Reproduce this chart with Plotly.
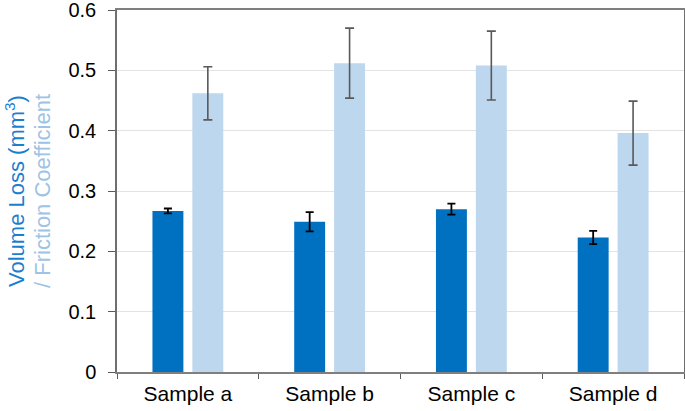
import plotly.graph_objects as go

categories = ["Sample a", "Sample b", "Sample c", "Sample d"]
volume_loss = [0.267, 0.249, 0.270, 0.223]
volume_err = [0.004, 0.016, 0.009, 0.011]
friction = [0.462, 0.512, 0.508, 0.396]
friction_err = [0.044, 0.058, 0.057, 0.053]
y_ticks = [0, 0.1, 0.2, 0.3, 0.4, 0.5, 0.6]
y_tick_labels = ["0", "0.1", "0.2", "0.3", "0.4", "0.5", "0.6"]

W, H = 685, 411
ml, mr, mt, mb = 117, 1, 10, 39
pw = W - ml - mr

fig = go.Figure()
fig.add_trace(go.Bar(
    x=categories, y=volume_loss, name="Volume Loss",
    marker=dict(color="#0070C0", line=dict(width=0)),
    error_y=dict(type="data", array=volume_err, visible=True,
                 color="#000000", thickness=1.8, width=4),
))
fig.add_trace(go.Bar(
    x=categories, y=friction, name="Friction Coefficient",
    marker=dict(color="#BDD7EE", line=dict(width=0)),
    error_y=dict(type="data", array=friction_err, visible=True,
                 color="#595959", thickness=1.6, width=4.5),
))

fig.update_layout(
    width=W, height=H,
    margin=dict(l=ml, r=mr, t=mt, b=mb, pad=0),
    paper_bgcolor="white", plot_bgcolor="white",
    barmode="group", bargap=0.437, bargroupgap=0.225,
    showlegend=False,
    font=dict(family="Liberation Sans, Arial, sans-serif", size=20, color="#000000"),
)
fig.update_xaxes(
    showline=True, linecolor="#7f7f7f", linewidth=1.5, mirror=True,
    ticks="outside", tickson="boundaries", ticklen=5, tickcolor="#595959",
    showgrid=False, tickfont=dict(size=21), automargin=False,
    ticklabelstandoff=2,
)
fig.update_yaxes(
    range=[0, 0.6001], tickvals=y_ticks, ticktext=y_tick_labels,
    showline=True, linecolor="#6f6f6f", linewidth=1.5, mirror=True,
    ticks="outside", ticklen=7, tickcolor="#595959",
    showgrid=True, gridcolor="#e3e3e3", gridwidth=1.2,
    zeroline=False, tickfont=dict(size=20), automargin=False,
    ticklabeloverflow="allow", ticklabelstandoff=8,
)

fig.add_annotation(
    xref="paper", yref="paper",
    x=(15 - ml) / pw, y=0.5,
    xanchor="center", yanchor="middle", showarrow=False, textangle=-90,
    text="Volume Loss (mm<sup>3</sup>)",
    font=dict(size=22, color="#1a7fcf", family="Liberation Sans, Arial, sans-serif"),
)
fig.add_annotation(
    xref="paper", yref="paper",
    x=(42 - ml) / pw, y=0.5,
    xanchor="center", yanchor="middle", showarrow=False, textangle=-90,
    text="/ Friction Coefficient",
    font=dict(size=22, color="#9dc3e6", family="Liberation Sans, Arial, sans-serif"),
)

fig.write_html(
    "out.html",
    config={"displayModeBar": False},
    post_script="document.body.style.margin='0';document.body.style.overflow='hidden';",
)
